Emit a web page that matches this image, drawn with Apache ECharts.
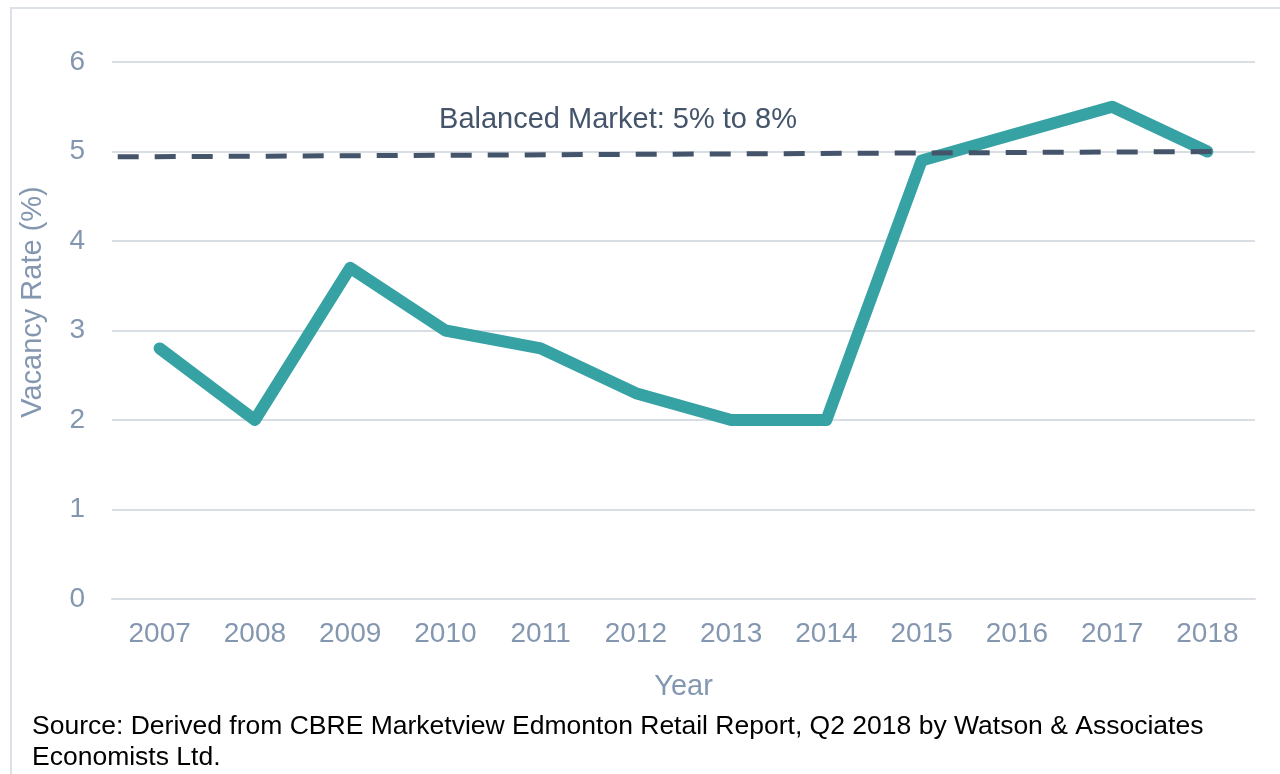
<!DOCTYPE html>
<html lang="en">
<head>
    <meta charset="UTF-8">
    <title>Vacancy Rate</title>
    <script src="https://cdn.jsdelivr.net/npm/echarts@6/dist/echarts.min.js"></script>
    <style>
        html, body { margin: 0; padding: 0; background: #fff; }
    </style>
</head>
<body>
    <div id="chart" style="width: 1280px; height: 774px;"></div>

    <script>
        var anos = ['2007', '2008', '2009', '2010', '2011', '2012', '2013', '2014', '2015', '2016', '2017', '2018'];
        var vacancia = [2.8, 2.0, 3.7, 3.0, 2.8, 2.3, 2.0, 2.0, 4.9, 5.2, 5.5, 5.0];
        // linha tracejada "Balanced Market" (x em índice de categoria, y em %)
        var mercadoX = [-0.44, 11.15];
        var mercadoY = [4.94, 5.0];
        var yTicks = [0, 1, 2, 3, 4, 5, 6];

        var fonte = 'Liberation Sans, Arial, sans-serif';
        var chart = echarts.init(document.getElementById('chart'));

        chart.setOption({
            animation: false,
            textStyle: { fontFamily: fonte },
            grid: { left: 112, right: 25, top: 62, bottom: 175 },
            xAxis: [
                {
                    type: 'category',
                    data: anos,
                    name: 'Year',
                    nameLocation: 'middle',
                    nameGap: 73,
                    nameTextStyle: { color: '#8497B0', fontSize: 29, fontFamily: fonte },
                    axisLine: { lineStyle: { color: '#D9DEE5', width: 2 } },
                    axisTick: { show: false },
                    axisLabel: { color: '#8497B0', fontSize: 28, margin: 21, fontFamily: fonte }
                },
                {
                    type: 'value',
                    min: -0.5,
                    max: 11.5,
                    show: false
                }
            ],
            yAxis: {
                type: 'value',
                min: yTicks[0],
                max: yTicks[yTicks.length - 1],
                interval: 1,
                axisLine: { show: false },
                axisTick: { show: false },
                axisLabel: { color: '#8497B0', fontSize: 28, margin: 27, fontFamily: fonte },
                splitLine: { lineStyle: { color: '#D9DEE5', width: 2 } }
            },
            graphic: [
                {
                    type: 'rect',
                    shape: { x: 11, y: 8, width: 1300, height: 800 },
                    style: { fill: 'none', stroke: '#DCE1E8', lineWidth: 2 },
                    silent: true
                },
                {
                    type: 'text',
                    x: 33, y: 302,
                    rotation: Math.PI / 2,
                    style: {
                        text: 'Vacancy Rate (%)',
                        fill: '#8497B0',
                        font: '29px ' + fonte,
                        textAlign: 'center',
                        textVerticalAlign: 'middle'
                    }
                },
                {
                    type: 'text',
                    x: 618, y: 120,
                    style: {
                        text: 'Balanced Market: 5% to 8%',
                        fill: '#44546A',
                        font: '29px ' + fonte,
                        textAlign: 'center',
                        textVerticalAlign: 'middle'
                    }
                },
                {
                    type: 'text',
                    x: 32, y: 711,
                    style: {
                        text: 'Source: Derived from CBRE Marketview Edmonton Retail Report, Q2 2018 by Watson & Associates\nEconomists Ltd.',
                        fill: '#000',
                        font: '26.5px ' + fonte,
                        lineHeight: 31
                    }
                }
            ],
            series: [
                {
                    type: 'line',
                    data: vacancia,
                    symbol: 'none',
                    lineStyle: { color: '#36A2A4', width: 12, cap: 'round', join: 'round' }
                },
                {
                    type: 'line',
                    xAxisIndex: 1,
                    data: mercadoX.map(function (x, i) { return [x, mercadoY[i]]; }),
                    symbol: 'none',
                    lineStyle: { color: '#44546A', width: 5, type: [21, 16] }
                }
            ]
        });
    </script>
</body>
</html>
